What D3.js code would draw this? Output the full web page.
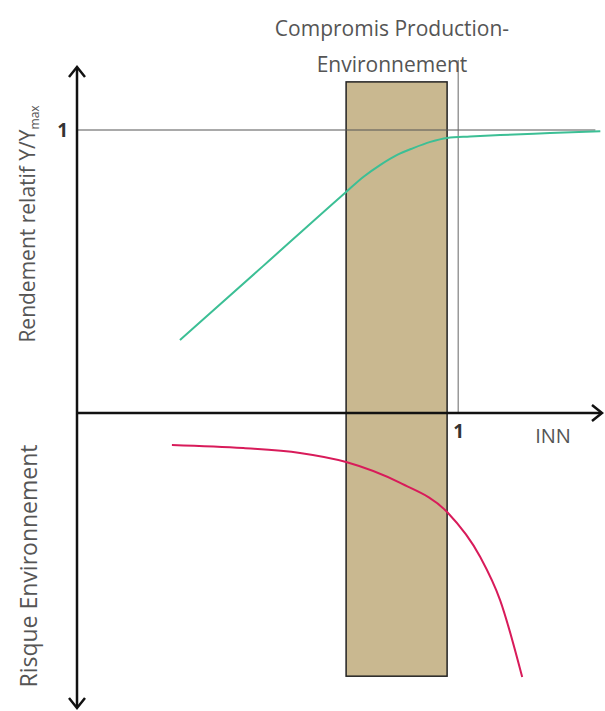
<!DOCTYPE html>
<html>
<head>
<meta charset="utf-8">
<script src="https://cdn.jsdelivr.net/npm/d3@7"></script>
<style>
  body { margin: 0; background: #fff; }
  text { font-family: "Open Sans", sans-serif; fill: #555; }
</style>
</head>
<body>
<div id="chart"></div>
<script>
/*
Compromis Production-Environnement
Rendement relatif and risque environnement against INN
*/

// Rendement relatif (green curve)
var innYield = [0.27, 0.488, 0.706, 0.751, 0.795, 0.84, 0.882, 0.927, 0.971, 1.031, 1.11, 1.241, 1.373];
var yieldRel = [0.258, 0.519, 0.781, 0.834, 0.876, 0.912, 0.936, 0.958, 0.972, 0.977, 0.982, 0.989, 0.996];

// Risque environnement (red curve)
var innRisk = [0.249, 0.436, 0.585, 0.706, 0.848, 0.971, 1.058, 1.11, 1.168];
var riskEnv = [0.113, 0.124, 0.141, 0.173, 0.247, 0.35, 0.509, 0.661, 0.933];

// Compromise zone on INN
var compromise = [0.706, 0.971];

// Tick labels
var yTicks = [1];
var xTicks = [1];

var W = 605, H = 711;

var svg = d3.select("#chart").append("svg")
  .attr("width", W)
  .attr("height", H)
  ;

// Scales
var x = d3.scaleLinear().domain([0, 1.38]).range([77, 603]);
var yTop = d3.scaleLinear().domain([0, 1]).range([413, 130]);
var yBot = d3.scaleLinear().domain([0, 1]).range([413, 696]);

// Compromise rectangle
svg.append("rect")
  .attr("x", x(compromise[0]))
  .attr("y", yTop(1.17))
  .attr("width", x(compromise[1]) - x(compromise[0]))
  .attr("height", yBot(0.93) - yTop(1.17))
  .style("fill", "#c9b890")
  .style("stroke", "#222")
  .style("stroke-width", 1.5)
  ;

// Reference line Y/Ymax = 1
svg.append("line")
  .attr("x1", x(0)).attr("x2", x(1.36))
  .attr("y1", yTop(1)).attr("y2", yTop(1))
  .style("stroke", "#555")
  .style("stroke-width", 1)
  ;

// Reference line INN = 1
svg.append("line")
  .attr("x1", x(1)).attr("x2", x(1))
  .attr("y1", 60).attr("y2", yTop(0))
  .style("stroke", "#666")
  .style("stroke-width", 1)
  ;

// Curves
var lineYield = d3.line()
  .x(function(d, i) { return x(innYield[i]); })
  .y(function(d) { return yTop(d); })
  .curve(d3.curveMonotoneX)
  ;

var lineRisk = d3.line()
  .x(function(d, i) { return x(innRisk[i]); })
  .y(function(d) { return yBot(d); })
  .curve(d3.curveMonotoneX)
  ;

svg.append("path")
  .attr("d", lineYield(yieldRel))
  .style("fill", "none")
  .style("stroke", "#3cbf95")
  .style("stroke-width", 2)
  ;

svg.append("path")
  .attr("d", lineRisk(riskEnv))
  .style("fill", "none")
  .style("stroke", "#d81b5a")
  .style("stroke-width", 2)
  ;

// Axes lines
var axisG = svg.append("g")
  .style("stroke", "#111")
  .style("stroke-width", 2.5)
  .style("fill", "none")
  ;

axisG.append("line")
  .attr("x1", x(0)).attr("x2", x(0))
  .attr("y1", 68).attr("y2", 707)
  ;
axisG.append("line")
  .attr("x1", x(0)).attr("x2", 601)
  .attr("y1", yTop(0)).attr("y2", yTop(0))
  ;

// Arrow heads
axisG.append("path").attr("d", arrow(x(0), 67, "up"));
axisG.append("path").attr("d", arrow(x(0), 708, "down"));
axisG.append("path").attr("d", arrow(602, yTop(0), "right"));

function arrow(cx, cy, dir) {
  var s = 8, l = 10;
  if (dir == "up") return "M" + (cx - s) + "," + (cy + l) + "L" + cx + "," + cy + "L" + (cx + s) + "," + (cy + l);
  if (dir == "down") return "M" + (cx - s) + "," + (cy - l) + "L" + cx + "," + cy + "L" + (cx + s) + "," + (cy - l);
  return "M" + (cx - l) + "," + (cy - s) + "L" + cx + "," + cy + "L" + (cx - l) + "," + (cy + s);
}

// Tick labels through d3 axes
var yAxis = svg.append("g")
  .attr("transform", "translate(" + x(0) + ",0)")
  .call(d3.axisLeft(yTop).tickValues(yTicks).tickSize(0).tickPadding(9).tickFormat(d3.format("d")))
  ;
yAxis.select(".domain").remove();

var xAxis = svg.append("g")
  .attr("transform", "translate(0," + yTop(0) + ")")
  .call(d3.axisBottom(x).tickValues(xTicks).tickSize(0).tickPadding(12).tickFormat(d3.format("d")))
  ;
xAxis.select(".domain").remove();

svg.selectAll(".tick text")
  .style("font-family", "\"Open Sans\", sans-serif")
  .style("font-size", "19px")
  .style("font-weight", "bold")
  .style("fill", "#333")
  ;

// INN label
svg.append("text")
  .attr("x", 553)
  .attr("y", 443)
  .attr("text-anchor", "middle")
  .style("font-size", "20px")
  .text("INN")
  ;

// Title
svg.append("text")
  .attr("x", 392)
  .attr("y", 36)
  .attr("text-anchor", "middle")
  .style("font-size", "21px")
  .text("Compromis  Production-")
  ;
svg.append("text")
  .attr("x", 392)
  .attr("y", 72)
  .attr("text-anchor", "middle")
  .style("font-size", "21px")
  .text("Environnement")
  ;

// Y titles
var t1 = svg.append("text")
  .attr("transform", "translate(35,224) rotate(-90)")
  .attr("text-anchor", "middle")
  .style("font-size", "21px")
  ;
t1.append("tspan").text("Rendement relatif Y/Y");
t1.append("tspan").attr("dy", 4).style("font-size", "12px").text("max");

svg.append("text")
  .attr("transform", "translate(37,566) rotate(-90)")
  .attr("text-anchor", "middle")
  .style("font-size", "23px")
  .text("Risque Environnement")
  ;
</script>
</body>
</html>
